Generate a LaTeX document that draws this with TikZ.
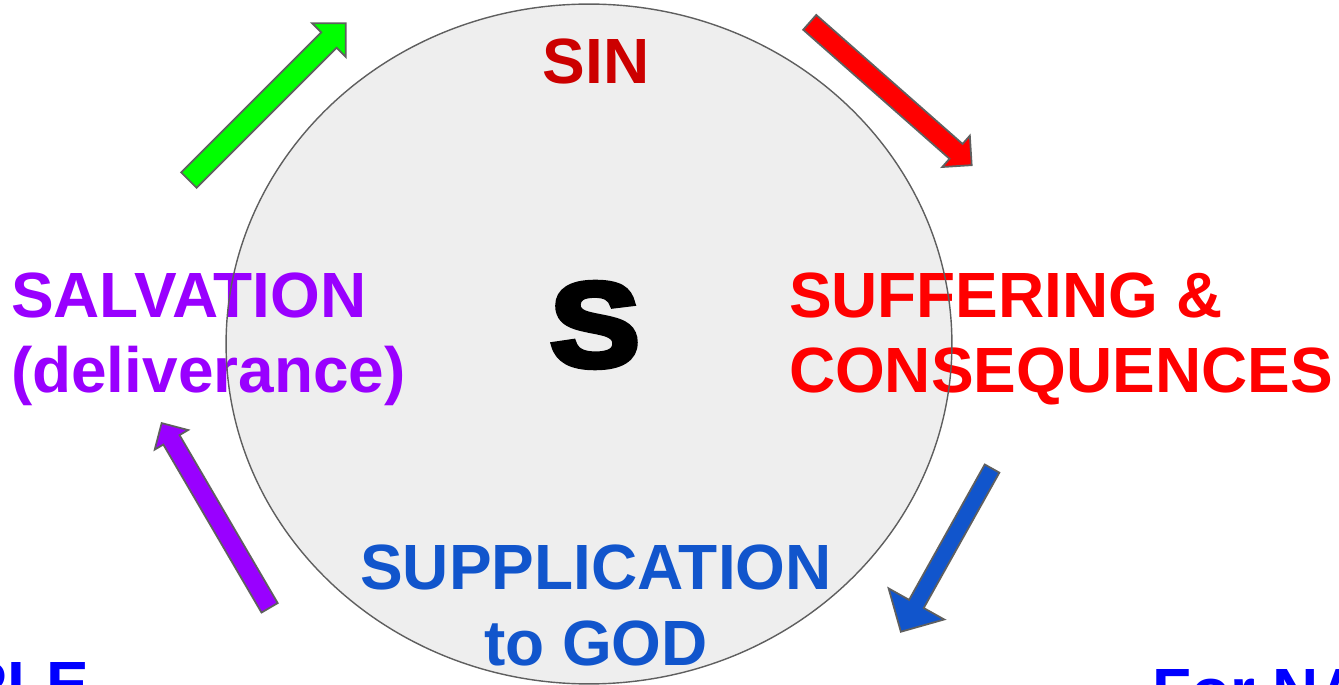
\documentclass[tikz,border=0pt]{standalone}
\usepackage{fontspec}
\setmainfont{Liberation Sans}
\newfontfamily\heavyS{Liberation Sans Bold}[FakeBold=5]
\usetikzlibrary{shapes.geometric, shapes.arrows}
\definecolor{sinred}{HTML}{CC0000}
\definecolor{painred}{HTML}{FF0000}
\definecolor{prayblue}{HTML}{1155CC}
\definecolor{savepurple}{HTML}{9900FF}
\definecolor{upgreen}{HTML}{00FF00}
\definecolor{notblue}{HTML}{0000FF}
\definecolor{rimgray}{HTML}{5F5F5F}
\definecolor{wheelfill}{HTML}{EEEEEE}

\begin{document}
\begin{tikzpicture}[
    x=0.02cm, y=-0.02cm,
    every node/.style={font=\bfseries\fontsize{36.4}{42.7}\selectfont, inner sep=0pt, outer sep=0pt},
    stage/.style={align=#1},
    stage/.default=center,
    blockarrow/.style={single arrow, draw=rimgray, line width=1pt, single arrow tip angle=90, inner xsep=0pt}
]
    \useasboundingbox (0,0) rectangle (1339,685);
    \clip (0,0) rectangle (1339,685);

    % the cycle
    \node (wheel) [ellipse, fill=wheelfill, minimum width=14.52cm, minimum height=13.6cm] at (589,344) {};
    \node (core) [font=\heavyS\fontsize{68}{68}\selectfont, xscale=1.12] at (595,325) {S};

    % the four stages (base = last line)
    \node (sin) [anchor=base, text=sinred] at (596,84) {SIN};
    \node (pain) [stage=left, anchor=base west, text=painred] at (789,393) {SUFFERING \&\\CONSEQUENCES};
    \node (pray) [stage, anchor=base, text=prayblue] at (596,665) {SUPPLICATION\\to GOD};
    \node (save) [stage=left, anchor=base west, text=savepurple] at (11,393) {SALVATION\\(deliverance)};

    \draw [rimgray, line width=0.8pt] (wheel.center) ellipse [x radius=7.26cm, y radius=6.8cm];

    % arrows round the cycle
    \node (toPain) [blockarrow, fill=painred, rotate=-41.4, minimum height=4.32cm, inner ysep=0.18cm, single arrow head extend=0.22cm] at (887,90.5) {};
    \node (toPray) [blockarrow, fill=prayblue, rotate=240.8, minimum height=3.74cm, inner ysep=0.15cm, single arrow head extend=0.47cm] at (948.5,546.5) {};
    \node (toSave) [blockarrow, fill=savepurple, rotate=120.3, minimum height=4.28cm, inner ysep=0.17cm, single arrow head extend=0.2cm] at (218,519.5) {};
    \node (toSin) [blockarrow, fill=upgreen, rotate=45, minimum height=4.44cm, inner ysep=0.2cm, single arrow head extend=0.26cm] at (263.5,105.5) {};

    % cut-off notes at the foot
    \node (leftNote) [anchor=base east, text=notblue] at (89,706) {PLE};
    \node (rightNote) [anchor=base west, text=notblue] at (1152,713) {For NA};
\end{tikzpicture}
\end{document}
